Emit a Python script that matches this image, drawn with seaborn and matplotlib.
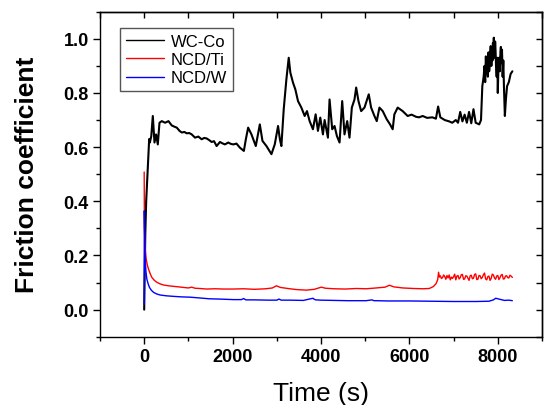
"""Friction coefficient vs sliding time for WC-Co, NCD/Ti and NCD/W."""
import matplotlib
matplotlib.use("Agg")
import matplotlib.pyplot as plt
import seaborn as sns
from matplotlib.ticker import MultipleLocator, FormatStrFormatter

# values
wc_time = [0, 10, 25, 45, 65, 83, 100, 113, 128, 160, 195, 215, 233, 270, 308,
           346, 398, 474, 549, 624, 690, 737, 800, 850, 910, 962, 1020, 1075,
           1150, 1225, 1300, 1360, 1413, 1470, 1526, 1580, 1639, 1714, 1770,
           1827, 1902, 1960, 2014, 2089, 2165, 2255, 2300, 2352, 2427, 2525,
           2616, 2676, 2766, 2879, 2954, 3029, 3070, 3104, 3157, 3217, 3270,
           3307, 3367, 3420, 3480, 3556, 3631, 3683, 3743, 3818, 3879, 3931,
           3984, 4044, 4082, 4157, 4194, 4254, 4307, 4360, 4420, 4480, 4532,
           4593, 4645, 4698, 4758, 4796, 4848, 4909, 4984, 5081, 5134, 5209,
           5262, 5322, 5397, 5487, 5562, 5622, 5660, 5735, 5848, 5961, 6050,
           6150, 6220, 6300, 6400, 6520, 6600, 6650, 6700, 6800, 6900, 6970,
           7050, 7100, 7150, 7200, 7250, 7300, 7350, 7400, 7450, 7500, 7580,
           7620, 7650, 7680, 7700, 7715, 7730, 7745, 7760, 7775, 7790, 7805,
           7820, 7830, 7840, 7855, 7870, 7880, 7890, 7900, 7910, 7920, 7930,
           7940, 7950, 7960, 7975, 7990, 8000, 8015, 8030, 8045, 8060, 8070,
           8080, 8095, 8110, 8125, 8140, 8160, 8185, 8210, 8250, 8290, 8330]
wc_cof = [0.0, 0.12, 0.28, 0.40, 0.47, 0.53, 0.60, 0.63, 0.617, 0.64, 0.715,
          0.66, 0.617, 0.647, 0.61, 0.69, 0.696, 0.69, 0.696, 0.68, 0.675,
          0.672, 0.660, 0.654, 0.656, 0.651, 0.652, 0.647, 0.635, 0.639, 0.629,
          0.634, 0.632, 0.626, 0.619, 0.622, 0.604, 0.619, 0.614, 0.610, 0.617,
          0.612, 0.610, 0.613, 0.598, 0.586, 0.629, 0.672, 0.647, 0.604, 0.684,
          0.623, 0.604, 0.574, 0.610, 0.678, 0.629, 0.604, 0.74, 0.85, 0.93,
          0.875, 0.838, 0.813, 0.77, 0.746, 0.715, 0.733, 0.696, 0.666, 0.721,
          0.66, 0.709, 0.647, 0.70, 0.635, 0.776, 0.666, 0.678, 0.641, 0.617,
          0.77, 0.647, 0.696, 0.635, 0.746, 0.776, 0.82, 0.77, 0.733, 0.746,
          0.795, 0.746, 0.715, 0.696, 0.746, 0.733, 0.703, 0.684, 0.666, 0.721,
          0.746, 0.733, 0.715, 0.72, 0.712, 0.71, 0.715, 0.708, 0.71, 0.705,
          0.75, 0.71, 0.70, 0.695, 0.69, 0.70, 0.69, 0.73, 0.695, 0.72, 0.69,
          0.73, 0.688, 0.74, 0.69, 0.684, 0.70, 0.825, 0.86, 0.90, 0.84,
          0.935, 0.87, 0.92, 0.86, 0.95, 0.88, 0.91, 0.95, 0.973, 0.90, 0.96,
          0.92, 0.985, 0.94, 1.004, 0.95, 0.93, 0.99, 0.954, 0.90, 0.86, 0.93,
          0.80, 0.90, 0.93, 0.88, 0.95, 0.97, 0.91, 0.96, 0.86, 0.92, 0.82,
          0.715, 0.78, 0.825, 0.84, 0.87, 0.88]

ti_time = [0, 5, 20, 45, 70, 97, 135, 173, 230, 286, 360, 436, 550, 661, 780,
           887, 1000, 1075, 1150, 1263, 1413, 1600, 1800, 2014, 2250, 2500,
           2750, 2900, 2992, 3080, 3250, 3450, 3669, 3850, 4007, 4100, 4300,
           4550, 4800, 5022, 5250, 5450, 5548, 5650, 5850, 6100, 6300, 6450,
           6540, 6600, 6640, 6660, 6680, 6700, 6725, 6750, 6775, 6800, 6825,
           6850, 6875, 6900, 6925, 6950, 6975, 7000, 7025, 7050, 7075, 7100,
           7125, 7150, 7175, 7200, 7225, 7250, 7275, 7300, 7325, 7350, 7375,
           7400, 7425, 7450, 7475, 7500, 7525, 7550, 7575, 7600, 7625, 7650,
           7675, 7700, 7725, 7750, 7775, 7800, 7825, 7850, 7875, 7900, 7925,
           7950, 7975, 8000, 8025, 8050, 8075, 8100, 8125, 8150, 8175, 8200,
           8225, 8250, 8275, 8300, 8330]
ti_cof = [0.508, 0.30, 0.23, 0.187, 0.165, 0.15, 0.133, 0.119, 0.108, 0.101,
          0.095, 0.091, 0.088, 0.086, 0.084, 0.082, 0.080, 0.083, 0.079, 0.078,
          0.076, 0.077, 0.076, 0.076, 0.077, 0.075, 0.077, 0.080, 0.088, 0.082,
          0.078, 0.074, 0.072, 0.075, 0.083, 0.079, 0.077, 0.076, 0.078, 0.077,
          0.080, 0.083, 0.090, 0.084, 0.080, 0.078, 0.077, 0.078, 0.085, 0.095,
          0.110, 0.138, 0.120, 0.125, 0.115, 0.118, 0.128, 0.122, 0.112,
          0.126, 0.117, 0.128, 0.110, 0.120, 0.115, 0.122, 0.131, 0.110, 0.124,
          0.126, 0.113, 0.118, 0.129, 0.130, 0.112, 0.113, 0.125, 0.124, 0.116,
          0.108, 0.125, 0.127, 0.114, 0.116, 0.130, 0.132, 0.111, 0.112, 0.126,
          0.125, 0.114, 0.119, 0.129, 0.135, 0.113, 0.110, 0.122, 0.124, 0.108,
          0.115, 0.131, 0.128, 0.117, 0.112, 0.124, 0.126, 0.111, 0.118, 0.127,
          0.130, 0.113, 0.114, 0.124, 0.125, 0.118, 0.117, 0.127, 0.124, 0.119]

w_time = [0, 3, 22, 40, 60, 90, 120, 160, 210, 280, 360, 500, 661, 850, 1037,
          1263, 1473, 1700, 2014, 2200, 2250, 2300, 2500, 2800, 3000, 3050,
          3100, 3300, 3600, 3819, 3840, 3880, 4000, 4300, 4600, 5022, 5150,
          5200, 5250, 5500, 6000, 6500, 7000, 7500, 7800, 7900, 7953, 8050,
          8150, 8250, 8329]
w_cof = [0.02, 0.365, 0.187, 0.14, 0.113, 0.095, 0.082, 0.072, 0.064, 0.058,
         0.054, 0.051, 0.049, 0.047, 0.046, 0.043, 0.040, 0.039, 0.037, 0.037,
         0.041, 0.036, 0.036, 0.035, 0.035, 0.039, 0.035, 0.035, 0.034, 0.042,
         0.039, 0.036, 0.035, 0.034, 0.033, 0.033, 0.036, 0.033, 0.033, 0.032,
         0.032, 0.031, 0.030, 0.030, 0.031, 0.036, 0.042, 0.038, 0.034, 0.035,
         0.033]

sns.set_style("ticks")
plt.rcParams['font.family'] = ['Liberation Sans', 'DejaVu Sans']
plt.rcParams.update({
    'axes.linewidth': 1.0,
    'axes.edgecolor': 'black',
    'axes.labelcolor': 'black',
    'text.color': 'black',
    'xtick.color': 'black',
    'ytick.color': 'black',
})

fig = plt.figure(figsize=(5.44, 4.06), dpi=100)
ax = fig.add_axes([0.1838, 0.1682, 0.8125, 0.8005])

sns.lineplot(x=wc_time, y=wc_cof, ax=ax, color='black', lw=1.5,
             label='WC-Co', sort=False, estimator=None)
sns.lineplot(x=ti_time, y=ti_cof, ax=ax, color='red', lw=1.0,
             label='NCD/Ti', sort=False, estimator=None)
sns.lineplot(x=w_time, y=w_cof, ax=ax, color='blue', lw=1.0,
             label='NCD/W', sort=False, estimator=None)

ax.set_xlim(-1000, 9000)
ax.set_ylim(-0.1, 1.1)
ax.xaxis.set_major_locator(MultipleLocator(2000))
ax.xaxis.set_minor_locator(MultipleLocator(1000))
ax.yaxis.set_major_locator(MultipleLocator(0.2))
ax.yaxis.set_minor_locator(MultipleLocator(0.1))
ax.yaxis.set_major_formatter(FormatStrFormatter('%.1f'))
ax.tick_params(which='major', direction='out', length=5, width=1,
               labelsize=13, pad=3)
ax.tick_params(which='minor', direction='out', length=3, width=1)
plt.setp(ax.get_xticklabels() + ax.get_yticklabels(), fontweight='bold')

# mirrored ticks pointing inward on top and right
top = ax.secondary_xaxis('top')
top.xaxis.set_major_locator(MultipleLocator(1000))
top.tick_params(direction='in', length=4, width=1, labeltop=False)
right = ax.secondary_yaxis('right')
right.yaxis.set_major_locator(MultipleLocator(0.1))
right.tick_params(direction='in', length=4, width=1, labelright=False)

ax.set_xlabel("Time (s)", fontsize=19, labelpad=12)
ax.set_ylabel("Friction coefficient", fontsize=19, fontweight='bold',
              labelpad=18)

leg = ax.legend(loc='upper left', bbox_to_anchor=(0.045, 0.95),
                borderaxespad=0, fontsize=12, frameon=True, fancybox=False,
                edgecolor='#555555', framealpha=1, handlelength=2.3,
                labelspacing=0.2, borderpad=0.35, handletextpad=0.4)
leg.get_frame().set_linewidth(1.0)
for line in leg.get_lines():
    line.set_linewidth(1.0)

fig.savefig("out.png", dpi=100)
